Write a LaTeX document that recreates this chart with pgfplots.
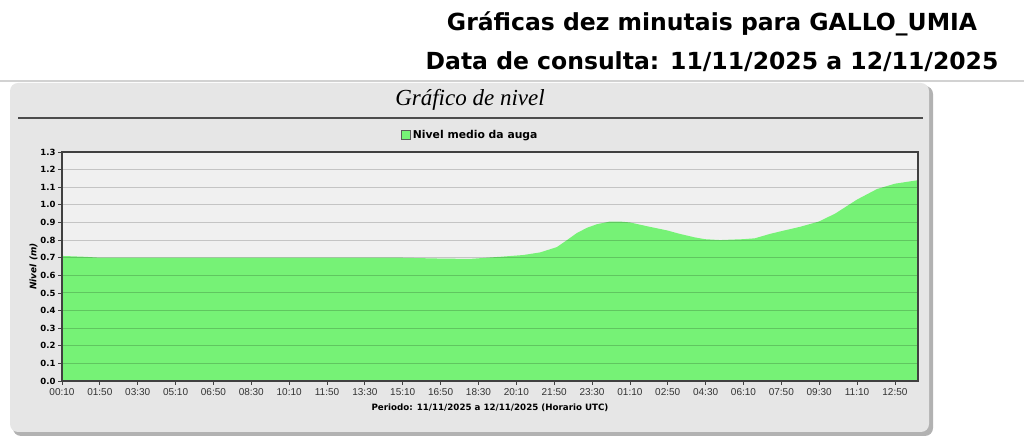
\documentclass[border=0pt]{standalone}
\usepackage{fontspec}
\setmainfont{Liberation Sans}
\newfontfamily\verdana{DejaVu Sans}
\newfontfamily\serifit{Liberation Serif}
\usepackage{pgfplots}
\pgfplotsset{compat=1.18}

\definecolor{nivgreen}{RGB}{118,242,118}
\definecolor{panel}{RGB}{230,230,230}
\definecolor{plotbg}{RGB}{240,240,240}

\begin{document}
\begin{tikzpicture}[x=1pt,y=1pt]
\path[use as bounding box] (0,0) rectangle (1024,438);
% page header
\node[font=\verdana\bfseries\fontsize{23.5}{28}\selectfont] at (712,414) {Gráficas dez minutais para GALLO\_UMIA};
\node[font=\verdana\bfseries\fontsize{23.5}{28}\selectfont] at (712,376) {Data de consulta: 11/11/2025 a 12/11/2025};
\draw[gray!35, line width=1.5] (0,357) -- (1024,357);
% panel
\fill[gray!60, rounded corners=8] (13,2) rectangle (933,352);
\fill[panel, rounded corners=8] (10,6) rectangle (929,355);
\node[font=\serifit\itshape\fontsize{23}{27}\selectfont] at (470,338) {Gráfico de nivel};
\draw[black!70, line width=1.2] (18,320) -- (923,320);

\begin{axis}[
  at={(62pt,57pt)}, anchor=south west,
  scale only axis, width=856pt, height=229pt,
  xmin=0, xmax=2261, ymin=0, ymax=1.3,
  axis background/.style={fill=plotbg},
  axis on top,
  axis line style={black!75, line width=1.2},
  tick align=outside, major tick length=4,
  xtick pos=left, ytick pos=left,
  tick style={black!75, line width=0.8},
  xtick={0,100,...,2200},
  xticklabels={00:10,01:50,03:30,05:10,06:50,08:30,10:10,11:50,13:30,15:10,16:50,18:30,20:10,21:50,23:30,01:10,02:50,04:30,06:10,07:50,09:30,11:10,12:50},
  ytick={0,0.1,0.2,0.3,0.4,0.5,0.6,0.7,0.8,0.9,1.0,1.1,1.2,1.3},
  /pgf/number format/assume math mode=true,
  yticklabel style={/pgf/number format/fixed, /pgf/number format/fixed zerofill, /pgf/number format/precision=1},
  yticklabel style={font=\verdana\bfseries\fontsize{8.5}{10}\selectfont, xshift=1pt},
  xticklabel style={font=\fontsize{10}{11}\selectfont, text=black!80},
  ymajorgrids,
  grid style={black, opacity=0.18, line width=0.9},
  xlabel={Periodo: 11/11/2025 a 12/11/2025 (Horario UTC)},
  xlabel style={font=\verdana\bfseries\fontsize{8.7}{11}\selectfont, yshift=-1pt},
  ylabel={Nivel (m)},
  ylabel style={font=\verdana\bfseries\itshape\fontsize{9}{11}\selectfont, yshift=-4pt},
  legend style={at={(0.477,1.035)}, anchor=south, draw=none, fill=none,
    font=\verdana\bfseries\fontsize{10.8}{12}\selectfont},
  legend image code/.code={\draw[#1, draw=black!65, line width=0.8] (0pt,-4pt) rectangle (9pt,5pt);},
]
\addplot[fill=nivgreen, draw=none] coordinates {
  (0,0.71) (60,0.705) (100,0.70) (200,0.70) (364,0.70) (500,0.70)
  (629,0.70) (760,0.70) (893,0.70) (998,0.695) (1078,0.693)
  (1123,0.70) (1157,0.705) (1218,0.715) (1263,0.73) (1307,0.76)
  (1334,0.80) (1360,0.84) (1387,0.87) (1413,0.89) (1447,0.905)
  (1474,0.905) (1500,0.90) (1553,0.875) (1598,0.855) (1632,0.835)
  (1672,0.815) (1698,0.805) (1738,0.80) (1799,0.805) (1830,0.81)
  (1870,0.835) (1899,0.85) (1949,0.875) (1999,0.905) (2042,0.95)
  (2100,1.03) (2153,1.09) (2200,1.12) (2261,1.14)
} \closedcycle;
\legend{Nivel medio da auga}
\end{axis}
\end{tikzpicture}
\end{document}
